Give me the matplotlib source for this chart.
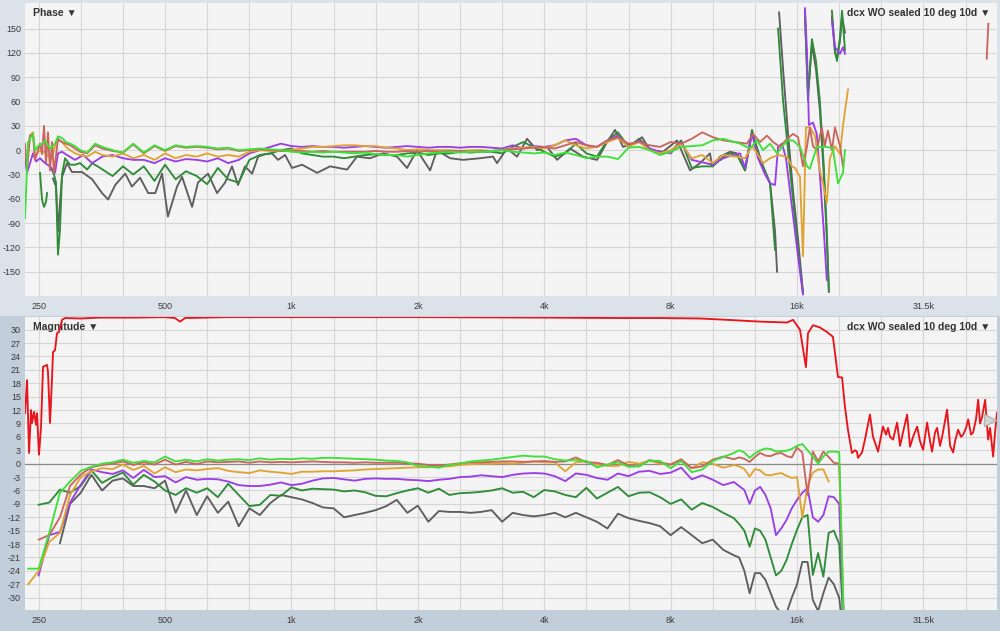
import numpy as np
import matplotlib.pyplot as plt
from matplotlib.patches import Rectangle

plt.rcParams['font.family'] = ['Liberation Sans', 'DejaVu Sans']
plt.rcParams['axes.unicode_minus'] = False

nan = np.nan

# ---------------- data ----------------
# common 1/12 (then 1/24) octave frequency grid used by the magnitude traces
FREQ = [236, 250, 265, 281, 297, 315, 334, 354, 375, 397,
        420, 445, 472, 500, 530, 561, 595, 630, 668, 707,
        749, 794, 841, 891, 944, 1000, 1059, 1122, 1189, 1260,
        1335, 1414, 1498, 1587, 1682, 1782, 1888, 2000, 2119, 2245,
        2378, 2520, 2670, 2828, 2997, 3175, 3364, 3564, 3776, 4000,
        4238, 4490, 4757, 5040, 5339, 5657, 5993, 6350, 6727, 7127,
        7551, 8000, 8476, 8980, 9514, 10079, 10679,
        11314, 11646, 11986, 12338, 12699, 13071, 13454, 13848, 14254, 14672,
        15102, 15544, 16000, 16469, 16951, 17448, 17959, 18485, 19027, 19584,
        20159, 20749, 21357]

MAG_GREEN = [-23.5, -23.5, -15.5, -6.5, -4.0, -1.6, -0.7, 0.0, 0.3, 0.9,
             0.2, 0.6, 0.3, 1.6, 0.5, 0.9, 0.5, 1.0, 0.7, 0.9,
             1.0, 0.8, 1.2, 0.9, 1.1, 1.0, 1.2, 1.1, 1.3, 1.3,
             1.2, 1.1, 1.0, 0.9, 0.7, 0.6, 0.3, -0.5, -0.7, -0.9,
             -0.3, 0.0, 0.5, 0.7, 0.9, 1.2, 1.5, 1.8, 1.6, 1.6,
             1.0, 0.7, 0.8, 0.6, -0.8, -0.2, 0.3, -0.7, -0.6, 0.7,
             0.6, -1.0, 0.6, -1.9, -1.3, 0.6, 1.5, 2.4, 3.0, 2.5,
             1.3, 2.3, 3.0, 3.4, 3.3, 2.7, 2.8, 2.9, 3.3, 4.0,
             4.4, 3.0, 1.6, 0.0, 1.6, 2.7, 2.7, 2.6, -40, nan]

MAG_ROSY = [nan, -17, -16, -12, -5, -2.4, -0.8, -0.3, 0.0, 0.5,
            -0.3, 0.3, -0.2, 0.9, -0.2, 0.4, -0.1, 0.5, 0.3, 0.4,
            0.5, 0.2, 0.5, 0.3, 0.4, 0.3, 0.4, 0.5, 0.4, 0.3,
            0.3, 0.2, 0.3, 0.2, 0.2, 0.2, 0.1, 0.0, -0.3, -0.4,
            -0.2, 0.1, 0.3, 0.3, 0.4, 0.5, 0.5, 0.4, 0.5, 0.6,
            0.4, 0.5, 1.4, 0.3, 0.2, -0.3, 0.8, -0.4, -0.6, 0.8,
            0.3, -0.2, 0.9, -1.0, -0.6, 0.9, 1.6, 1.0, 1.4, 1.1,
            0.4, 1.5, 2.4, 1.8, 1.7, 2.2, 2.4, 1.7, 1.4, 3.6,
            2.5, -7.0, 2.7, 0.5, 2.7, 1.5, 0.2, 0.0, -40, nan]

MAG_GOLD = [-27, -24, -17.5, -15.5, -7, -3, -1.7, -1.0, -1.2, -0.2,
            -1.4, -0.5, -2.2, -0.8, -1.9, -1.3, -1.5, -1.2, -1.0, -1.6,
            -1.9, -2.1, -1.5, -1.8, -2.0, -2.3, -1.8, -1.8, -1.7, -1.7,
            -1.6, -1.5, -1.3, -1.2, -1.1, -1.0, -0.9, -0.8, -0.8, -0.6,
            -0.6, -0.3, -0.1, 0.0, 0.0, 0.1, 0.0, 0.2, 0.5, 0.3,
            0.3, -1.7, 0.3, 0.5, -0.2, -0.5, -0.5, 0.4, 0.0, 0.7,
            0.0, -0.2, 1.0, -1.0, 0.3, 0.0, -0.9, -0.3, -0.6, -1.2,
            -2.9, -1.2, -1.5, -2.5, -2.6, -2.3, -2.1, -2.7, -3.2, -3.0,
            -12, -5, -2, -1.3, -1.3, -4, nan, nan, nan, nan]

MAG_PURPLE = [nan, -25, -16, -15.3, -8.7, -4.7, -1.3, -1.9, -2.3, -1.5,
              -3.2, -1.4, -3.0, -2.8, -4.2, -3.0, -3.6, -3.4, -3.5, -4.0,
              -4.8, -5.0, -5.0, -4.7, -4.2, -4.8, -4.5, -3.8, -3.3, -3.2,
              -3.5, -3.8, -3.4, -3.3, -3.4, -3.4, -3.6, -3.7, -3.9, -3.6,
              -3.4, -3.0, -2.9, -2.6, -2.8, -3.0, -2.5, -2.2, -2.1, -2.2,
              -2.8, -3.9, -2.2, -2.5, -3.2, -3.6, -2.2, -2.8, -1.8, -1.6,
              -2.3, -2.0, -0.9, -3.5, -2.6, -3.6, -4.8, -4.1, -5.0, -5.9,
              -9.0, -6.0, -5.2, -7.0, -10, -16, -14.5, -12.6, -10, -8.1,
              -6.5, -5.5, -12, -13, -11.5, -7.3, -7.5, -9, -40, nan]

MAG_DKGREEN = [nan, -9.2, -8.7, -5.8, -6.5, -5.0, -1.5, -4.3, -3.0, -2.0,
               -4.7, -2.5, -4.0, -6.0, -7.0, -5.5, -6.5, -5.5, -7.5, -4.5,
               -7.0, -9.5, -9.2, -7.0, -7.2, -5.3, -6.0, -5.6, -5.7, -5.8,
               -6.2, -6.0, -6.4, -7.2, -7.3, -6.6, -6.0, -5.5, -6.5, -5.6,
               -7.0, -6.6, -6.5, -6.3, -6.0, -5.5, -6.5, -6.3, -7.5, -5.9,
               -6.2, -7.0, -7.5, -5.4, -7.8, -6.5, -5.2, -7.3, -6.5, -6.4,
               -7.5, -9.0, -8.0, -10.3, -8.8, -9.7, -11.0, -12.2, -13.5, -15.0,
               -18.6, -14.5, -15.0, -17.0, -21.0, -25.0, -24.0, -21.6, -18.0, -14.8,
               -12.0, -11.5, -24.9, -20.0, -25.3, -15.5, -15.0, -18.0, -40, nan]

MAG_GRAY = [nan, nan, nan, -17.8, -9.0, -6.5, -2.5, -6.0, -3.8, -3.3,
            -5.0, -5.0, -5.5, -3.8, -11.0, -6.0, -11.5, -7.3, -11.0, -8.5,
            -14.0, -10.0, -11.5, -8.8, -7.0, -7.5, -8.0, -8.8, -9.8, -10.0,
            -12.0, -11.5, -11.0, -10.4, -9.5, -8.1, -11.0, -9.4, -13.0, -10.6,
            -10.8, -10.8, -11.0, -10.8, -10.4, -13.0, -11.0, -11.5, -11.8, -11.5,
            -11.0, -12.0, -11.0, -12.0, -13.0, -14.5, -11.2, -12.2, -12.8, -13.3,
            -14.0, -16.0, -14.2, -16.0, -17.8, -17.0, -19.3, -20.5, -21.0, -24.0,
            -29.0, -24.5, -24.5, -26.0, -29.0, -32.0, -33.5, -33.5, -30.0, -27.0,
            -22.0, -22.0, -30.5, -33.0, -29.0, -25.5, -27.0, -30.0, -40, nan]

# reference (red) magnitude trace: (Hz, dB)
MAG_RED = [(232.0, 11.3), (234.6, 18.7), (237.2, 2.4), (239.8, 12.0), (241.1, 9.1),
           (243.8, 11.6), (246.5, 8.7), (247.8, 11.3), (250.5, 2.0), (253.3, 8.2),
           (256.1, 21.7), (261.8, 22.1), (263.2, 20.5), (266.1, 9.1), (269.1, 19.2),
           (270.5, 25.0), (273.5, 25.4), (276.5, 29.2), (279.6, 29.5), (284.2, 32.2),
           (289.0, 32.6), (314, 32.5), (350, 32.7), (420, 32.7), (500, 32.8),
           (528, 32.6), (543, 31.8), (558, 32.6), (700, 32.8), (1000, 32.8),
           (2000, 32.8), (4000, 32.7), (6000, 32.6), (7550, 32.6), (9400, 32.5),
           (10900, 32.2), (13060, 31.8), (15150, 31.6), (15650, 32.2), (16260, 30.0),
           (16800, 21.6), (16990, 29.2), (17460, 31.0), (18130, 30.5), (18840, 29.5),
           (19480, 28.4), (20030, 19.4), (20480, 19.3), (20810, 12.7), (21160, 7.5),
           (21620, 2.4), (21990, 3.0), (22220, 2.7), (22350, 1.3), (22850, 2.5),
           (23220, 5.4), (23870, 11.0), (24270, 6.0), (24540, 4.7), (24950, 2.7),
           (25220, 5.0), (25630, 8.3), (26070, 6.5), (26350, 8.0), (26640, 6.0),
           (27090, 5.4), (27700, 9.2), (28150, 4.0), (28610, 7.0), (29260, 11.0),
           (29730, 3.8), (30230, 6.0), (30910, 8.3), (31410, 5.0), (31940, 3.1),
           (32650, 9.2), (33180, 5.0), (33550, 2.7), (34100, 7.0), (34490, 8.0),
           (35050, 4.0), (35450, 6.0), (36430, 12.1), (37040, 4.0), (37660, 2.5),
           (38050, 5.0), (38700, 7.6), (39330, 6.0), (39780, 6.5), (40420, 8.0),
           (40900, 9.9), (41550, 6.5), (42030, 7.0), (42700, 10.0), (43200, 14.3),
           (43650, 9.0), (44150, 10.5), (44880, 14.3), (45630, 5.4), (46110, 8.0),
           (46890, 1.6), (47390, 7.0), (47910, 11.4)]

# phase traces: low part (Hz, deg), mid part on FREQ[8:67], high part (Hz, deg)
PH_GREEN_LO = [(232.0, -84), (235.9, 10), (238.5, 14), (242.4, 20), (245.1, 0),
               (249.2, 5), (254.7, 8), (258.9, 12), (266.1, 2), (273.5, 8),
               (278.0, 17), (284.2, 15), (290.5, 10), (297.0, 8), (305.3, 5),
               (313.8, 0), (326.2, -3), (340.9, 8), (354.3, 4)]
PH_GREEN_MID = [0, -3, 8, -3, 6, 0, 6, 4, 5, 4,
                2, 3, 0, 1, 2, 1, 0, -2, -3, -2,
                -3, -2, -3, -4, -3, -5, -6, -6, -8, -6,
                -4, -3, -2, -3, -2, -2, -1, 0, -2, -3,
                -4, -3, -6, -3, -6, -10, -8, -8, -11, 3,
                4, 0, -6, -2, 4, 5, 6, 12, 14]
PH_GREEN_HI = [(11700, 8), (12370, 2), (12850, 12), (13280, 0), (13800, 8),
               (14340, -4), (15150, 12), (15650, 12), (16260, 4), (16900, -20),
               (17170, -23), (17830, 4), (18840, 4), (19480, 2), (20030, -41),
               (20580, -28), (20810, 0)]

PH_ROSY_LO = [(232.0, 8), (234.6, -25), (238.5, 18), (242.4, 20), (245.1, -12),
              (249.2, 0), (251.9, 8), (254.7, -5), (257.5, 30), (260.3, -16),
              (263.2, 22), (266.1, -25), (269.1, 10), (272.0, -28), (278.0, 14),
              (284.2, 10), (290.5, 8), (297.0, 6), (305.3, 2), (313.8, -2),
              (326.2, -4), (340.9, 6), (354.3, 2)]
PH_ROSY_MID = [-1, -3, 7, -4, 5, -1, 5, 3, 4, 3,
               1, 2, -1, 0, 1, 0, -1, -1, -1, -2,
               -1, -2, -2, -2, -2, -1, -2, -2, -1, -2,
               -1, -2, -1, -1, -2, -1, -1, 0, 1, 2,
               3, 4, 2, 6, 10, 6, 4, 12, 16, 8,
               10, 6, 4, 10, 8, 14, 22, 16, 12]
PH_ROSY_HI = [(11390, 10), (12160, 8), (12570, 20), (13060, 10), (13570, 18),
              (14030, 10), (14570, 4), (15150, 14), (15650, 20), (16090, 16),
              (16530, -20), (16900, 5), (17170, 28), (17460, 5), (17830, 0),
              (18330, 28), (18630, 5), (18950, 24), (19370, 0), (19700, 28),
              (20250, 5), (20580, -20)]
PH_ROSY_TAIL = [(45280, 113), (45680, 156)]

PH_GOLD_LO = [(235.9, 5), (238.5, 18), (242.4, 22), (245.1, -10), (249.2, -2),
              (254.7, 0), (261.8, -6), (269.1, -10), (275.0, 10), (278.0, 12),
              (284.2, 10), (290.5, 4), (297.0, 0), (305.3, -4), (313.8, -6),
              (326.2, -8), (340.9, -2), (354.3, -6)]
PH_GOLD_MID = [-8, -4, -10, -6, -12, -4, -10, -6, -8, -4,
               -8, -6, -8, -2, 0, -1, -1, 0, 2, 4,
               4, 5, 6, 6, 5, 5, 3, 2, 0, 1,
               0, 0, 0, -1, 0, 0, -1, 0, 2, 3,
               4, 2, 6, 12, 6, 2, 4, 10, 15, 4,
               10, 0, -4, 0, 8, -10, -6, -16, -6]
PH_GOLD_HI = [(11390, -8), (12030, -10), (12500, 5), (12850, -4), (13280, -16),
              (13800, -10), (14420, -6), (15150, -8), (15560, -20), (15820, -22),
              (16260, -33), (16530, -131), (16800, 28), (17170, 28), (17650, 18),
              (18050, -20), (18430, -40), (18840, -65), (19160, -10), (19700, 5),
              (20250, -5), (20580, 30), (21160, 75)]

PH_PURPLE_LO = [(232.0, -10), (234.6, -28), (242.4, -4), (246.5, -14), (251.9, -10),
                (258.9, -16), (266.1, -20), (273.5, -28), (278.0, -4), (284.2, -2),
                (292.1, -6), (305.3, -12), (319.1, -6), (335.3, -16), (354.3, -8)]
PH_PURPLE_MID = [-6, -10, -12, -12, -16, -10, -14, -11, -12, -14,
                 -10, -16, -12, -4, 0, 4, 8, 5, 4, 5,
                 4, 4, 3, 4, 5, 4, 3, 4, 5, 4,
                 3, 4, 4, 3, 4, 4, 3, 2, 6, 2,
                 5, 4, 6, 12, 14, 6, 4, 12, 18, 4,
                 12, 2, -2, -4, 10, -12, -15, -18, -10]
PH_PURPLE_HI = [(11260, -6), (11700, -4), (12030, -22), (12500, 20), (12920, -10),
                (13430, -30), (13800, -41), (14180, -43), (14420, 4), (14740, 8),
                (15060, -10), (15390, -50), (15820, -100), (16260, -150), (16530, -178),
                (16620, nan), (16710, 175), (16900, 120), (17080, 31), (17460, 34),
                (17830, 20), (18130, -30), (18530, -100), (18840, -160), (19100, nan),
                (19370, 160), (19700, 127), (20250, 119), (20580, 127), (20810, 119)]

PH_DKGREEN_LO = [(251.9, -28), (254.7, -61), (257.5, -70), (260.3, -64), (261.8, -53),
                 (263.2, nan), (267.6, -22), (272.0, -30), (275.0, -40), (278.0, -129),
                 (281.1, -98), (284.2, -30), (289.0, -10), (297.0, -18), (305.3, -18),
                 (313.8, -16), (326.2, -24), (335.3, -16), (350.5, -22)]
PH_DKGREEN_MID = [-32, -20, -30, -20, -38, -18, -36, -26, -32, -42,
                  -22, -36, -40, -12, -6, -4, 0, 2, -4, -6,
                  -8, -8, -10, -8, -6, -5, -6, -6, -4, -3,
                  -6, -4, -4, -2, -3, -2, -2, -4, 4, 10,
                  4, -2, -8, -4, 8, -4, -8, 12, 22, 4,
                  14, 2, -4, -2, 12, -22, -20, -20, -8]
PH_DKGREEN_HI = [(11080, -4), (11510, -6), (12030, -25), (12500, 25), (12920, -5),
                 (13280, -20), (13800, -41), (14180, -123), (14300, nan), (14420, 150),
                 (14820, 61), (15230, 0), (15650, -61), (16090, -123), (16530, -176),
                 (16620, nan), (16710, 172), (16990, 61), (17360, 137), (17750, 110),
                 (18130, 61), (18530, -20), (18840, -102), (19050, -172), (19200, nan),
                 (19370, 172), (19700, 123), (19920, 110), (20250, 140), (20480, 172),
                 (20810, 123)]

PH_GRAY = [(270.5, -35), (275.0, -45), (278.0, -100), (281.1, -65), (284.2, -33),
           (292.1, -16), (300.2, -27), (317.2, -27), (335.3, -36), (354, -53),
           (366, -61), (380.5, -43), (402, -29), (417, -45), (436, -34),
           (456, -53), (474, -53), (492, -29), (508, -82), (534, -45),
           (549, -33), (580, -70), (599, -40), (633, -29), (665, -53),
           (695, -40), (722, -20), (746, -43), (775, -20), (806, -29),
           (833, -8), (865, -5), (899, -4), (929, -12), (966, -6),
           (1003, -22), (1060, -18), (1151, -28), (1236, -20), (1357, -24),
           (1433, -8), (1539, -10), (1653, -4), (1785, -8), (1885, -22),
           (1991, 0), (2139, -25), (2222, 0), (2387, -10), (2563, -12),
           (2813, -10), (3021, -8), (3088, -16), (3262, 2), (3446, -8),
           (3640, 14), (3846, 0), (4062, 4), (4292, -12), (4608, 2),
           (4948, -8), (5344, -12), (5645, 10), (5898, 25), (6163, 4),
           (6510, 8), (6839, 16), (7146, 0), (7674, -2), (8287, 12),
           (8899, -25), (9400, -16), (9929, -4), (10040, -20), (10490, -8),
           (11080, -2), (11510, -4), (12030, -25), (12500, 22), (13280, -20),
           (13800, -41), (14180, -100), (14340, -150), (14420, nan), (14500, 170),
           (14820, 100), (15230, 20), (15650, -50), (16090, -110), (16530, -176),
           (16620, nan), (16710, 165), (16990, 70), (17360, 130), (17750, 100),
           (18130, 50), (18530, -30), (18840, -110), (19050, -175), (19200, nan),
           (19370, 165), (19700, 120), (19920, 113), (20250, 135), (20480, 165),
           (20810, 145)]

X_TICKS = [250, 500, 1000, 2000, 4000, 8000, 16000, 32000]
X_LABELS = ['250', '500', '1k', '2k', '4k', '8k', '16k', '31.5k']
TRACE_NAME = 'dcx WO sealed 10 deg 10d \u25BC'

# ---------------- style ----------------
C_RED = '#e8161c'
C_GREEN = '#3fe03a'
C_ROSY = '#c9665f'
C_GOLD = '#e0a435'
C_PURPLE = '#9a3fe6'
C_DKGREEN = '#2f8c38'
C_GRAY = '#5e5e5e'
LW = 1.35


def split(pairs):
    return [p[0] for p in pairs], [p[1] for p in pairs]


def phase_trace(lo, mid, hi):
    f_lo, v_lo = split(lo)
    f_hi, v_hi = split(hi)
    return f_lo + FREQ[8:67] + f_hi, v_lo + mid + v_hi


fig = plt.figure(figsize=(10, 6.31), dpi=100)
fig.patch.set_facecolor('#dce2e9')
fig.add_artist(Rectangle((0, 0), 1, 0.4995, transform=fig.transFigure,
                         facecolor='#c3cedb', edgecolor='none', zorder=-5))

ax_ph = fig.add_axes([0.025, 0.5309, 0.972, 0.4636])
ax_mag = fig.add_axes([0.025, 0.0333, 0.972, 0.4648])

grid_f = [1000 * 2 ** (k / 3) for k in range(-6, 17)]
for ax in (ax_ph, ax_mag):
    ax.set_facecolor('#f4f4f4')
    ax.set_xscale('log')
    ax.set_xlim(232, 47900)
    for s in ax.spines.values():
        s.set_visible(False)
    for g in grid_f:
        ax.axvline(g, color='#d6d6d6', lw=0.8, zorder=0)
    ax.set_xticks(X_TICKS)
    ax.set_xticklabels(X_LABELS)
    ax.minorticks_off()
    ax.tick_params(length=0, labelsize=6.5, colors='#3a3a3a', pad=3)

# phase panel
ax_ph.set_ylim(-180, 181)
ax_ph.set_yticks(range(-150, 151, 30))
for y in range(-150, 151, 30):
    ax_ph.axhline(y, color='#d6d6d6', lw=0.8, zorder=0)
ax_ph.tick_params(axis='x', pad=4)

f, v = split(PH_GRAY)
ax_ph.plot(f, v, color=C_GRAY, lw=LW, zorder=2)
f, v = phase_trace(PH_DKGREEN_LO, PH_DKGREEN_MID, PH_DKGREEN_HI)
ax_ph.plot(f, v, color=C_DKGREEN, lw=LW, zorder=3)
f, v = phase_trace(PH_PURPLE_LO, PH_PURPLE_MID, PH_PURPLE_HI)
ax_ph.plot(f, v, color=C_PURPLE, lw=LW, zorder=4)
f, v = phase_trace(PH_GOLD_LO, PH_GOLD_MID, PH_GOLD_HI)
ax_ph.plot(f, v, color=C_GOLD, lw=LW, zorder=5)
f, v = phase_trace(PH_ROSY_LO, PH_ROSY_MID, PH_ROSY_HI)
ax_ph.plot(f, v, color=C_ROSY, lw=LW, zorder=6)
f, v = phase_trace(PH_GREEN_LO, PH_GREEN_MID, PH_GREEN_HI)
ax_ph.plot(f, v, color=C_GREEN, lw=LW, zorder=7)
f, v = split(PH_ROSY_TAIL)
ax_ph.plot(f, v, color=C_ROSY, lw=LW, zorder=6)

ax_ph.text(0.008, 0.967, 'Phase \u25BC', transform=ax_ph.transAxes,
           ha='left', va='center', fontsize=7.5, fontweight='bold', color='#333333')
ax_ph.text(0.993, 0.967, TRACE_NAME, transform=ax_ph.transAxes,
           ha='right', va='center', fontsize=7.5, fontweight='bold', color='#333333')

# magnitude panel
ax_mag.set_ylim(-32.75, 32.9)
ax_mag.set_yticks(range(-30, 31, 3))
for y in range(-30, 31, 3):
    ax_mag.axhline(y, color='#d6d6d6', lw=0.8, zorder=0)
ax_mag.axhline(0, color='#8a8a8a', lw=0.9, zorder=1)
ax_mag.tick_params(axis='x', pad=4)

for vals, col, z in [(MAG_GRAY, C_GRAY, 2), (MAG_DKGREEN, C_DKGREEN, 3),
                     (MAG_PURPLE, C_PURPLE, 4), (MAG_GOLD, C_GOLD, 5),
                     (MAG_ROSY, C_ROSY, 6), (MAG_GREEN, C_GREEN, 7)]:
    ax_mag.plot(FREQ, vals, color=col, lw=LW, zorder=z)
f, v = split(MAG_RED)
ax_mag.plot(f, v, color=C_RED, lw=LW, zorder=8)
ax_mag.plot([46000], [9.8], marker='>', ms=9, color='#d4d4d4',
            markeredgecolor='#b4b4b4', zorder=9)

ax_mag.text(0.008, 0.966, 'Magnitude \u25BC', transform=ax_mag.transAxes,
            ha='left', va='center', fontsize=7.5, fontweight='bold', color='#333333')
ax_mag.text(0.993, 0.966, TRACE_NAME, transform=ax_mag.transAxes,
            ha='right', va='center', fontsize=7.5, fontweight='bold', color='#333333')

fig.savefig('out.png', dpi=100)
